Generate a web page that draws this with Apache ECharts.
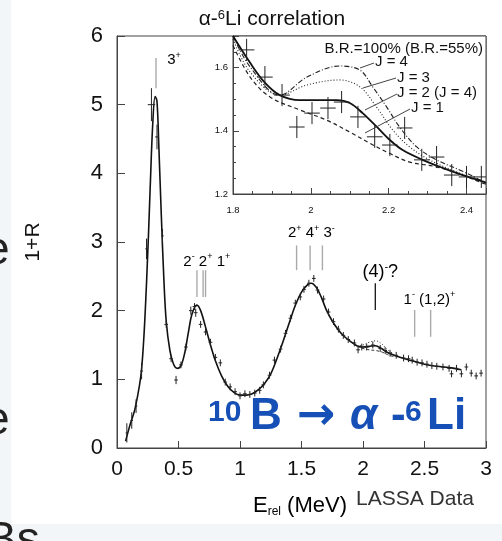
<!DOCTYPE html>
<html><head><meta charset="utf-8">
<script src="https://cdn.jsdelivr.net/npm/echarts@6/dist/echarts.min.js"></script>
<style>html,body{margin:0;padding:0;background:#fff}#c{width:502px;height:541px}</style>
</head><body><div id="c"></div>
<script>
// ---------- DATA ----------
// main fit curve (E_rel MeV, 1+R)
const fitX = [0.07,0.10,0.15,0.20,0.24,0.27,0.29,0.31,0.325,0.34,0.36,0.38,0.40,0.43,0.46,0.49,0.52,0.55,0.58,0.61,0.65,0.68,0.72,0.76,0.80,0.85,0.90,0.95,1.00,1.05,1.10,1.15,1.20,1.25,1.30,1.35,1.40,1.45,1.50,1.55,1.58,1.62,1.66,1.70,1.75,1.80,1.85,1.90,1.95,2.00,2.05,2.10,2.15,2.20,2.30,2.40,2.50,2.60,2.70,2.80];
const fitY = [0.10,0.30,0.60,1.15,2.40,3.80,4.70,5.12,5.05,4.40,3.40,2.50,1.85,1.42,1.22,1.16,1.20,1.38,1.68,1.95,2.08,2.00,1.76,1.50,1.27,1.05,0.90,0.81,0.77,0.77,0.79,0.85,0.94,1.08,1.30,1.55,1.82,2.08,2.27,2.38,2.40,2.34,2.20,2.02,1.85,1.72,1.62,1.55,1.49,1.47,1.48,1.49,1.45,1.39,1.32,1.27,1.22,1.19,1.17,1.14];
// alternative J fits near the 2.1 MeV bump (main panel)
const bumpX = [1.95,2.00,2.05,2.10,2.15,2.20,2.25];
const bumpHiY = [1.49,1.50,1.54,1.56,1.52,1.43,1.37];
const bumpLoY = [1.48,1.45,1.43,1.42,1.40,1.36,1.33];
// main data points: [x, y, xErr, yErr]
const mainPts = [
 [0.08,0.22,0.01,0.14],[0.12,0.40,0.01,0.12],[0.155,0.61,0.01,0.10],[0.20,1.12,0.012,0.12],
 [0.24,2.90,0.01,0.15],[0.28,5.00,0.03,0.24],[0.325,4.53,0.015,0.18],[0.37,3.09,0.01,0.10],
 [0.40,1.80,0.015,0.05],[0.44,1.30,0.015,0.05],[0.48,0.99,0.015,0.06],[0.52,1.21,0.015,0.05],
 [0.56,1.47,0.015,0.05],[0.60,2.00,0.015,0.06],[0.63,2.06,0.015,0.05],[0.64,1.97,0.015,0.06],
 [0.68,1.80,0.015,0.05],[0.72,1.69,0.015,0.05],[0.76,1.54,0.015,0.05],[0.80,1.32,0.015,0.05],
 [0.84,1.24,0.015,0.05],[0.88,0.96,0.015,0.05],[0.92,0.89,0.015,0.05],[0.96,0.82,0.015,0.05],
 [1.00,0.76,0.015,0.05],[1.04,0.79,0.015,0.05],[1.08,0.78,0.015,0.05],[1.12,0.80,0.015,0.05],
 [1.16,0.84,0.015,0.05],[1.19,0.92,0.015,0.05],[1.24,1.06,0.015,0.05],[1.28,1.28,0.015,0.05],
 [1.33,1.44,0.015,0.05],[1.37,1.67,0.015,0.05],[1.41,1.89,0.015,0.05],[1.45,2.11,0.015,0.05],
 [1.49,2.20,0.015,0.05],[1.52,2.31,0.015,0.05],[1.56,2.40,0.015,0.05],[1.60,2.47,0.015,0.05],
 [1.63,2.30,0.015,0.05],[1.68,2.17,0.015,0.05],[1.72,1.98,0.015,0.05],[1.76,1.84,0.015,0.05],
 [1.80,1.73,0.015,0.05],[1.84,1.64,0.015,0.05],[1.88,1.58,0.015,0.05],[1.93,1.53,0.015,0.05],
 [1.96,1.43,0.015,0.05],[1.99,1.47,0.015,0.05],[2.03,1.47,0.015,0.05],[2.08,1.50,0.015,0.05],
 [2.14,1.45,0.015,0.05],[2.18,1.42,0.015,0.05],[2.22,1.38,0.015,0.05],[2.27,1.35,0.015,0.05],
 [2.33,1.31,0.015,0.05],[2.37,1.30,0.015,0.05],[2.40,1.28,0.015,0.05],[2.44,1.25,0.015,0.05],
 [2.48,1.24,0.015,0.05],[2.52,1.22,0.015,0.05],[2.56,1.20,0.015,0.05],[2.60,1.19,0.015,0.05],
 [2.65,1.18,0.015,0.05],[2.70,1.16,0.015,0.05],[2.72,1.08,0.015,0.05],[2.76,1.16,0.015,0.05],
 [2.80,1.08,0.015,0.05],[2.84,1.18,0.015,0.05],[2.88,1.09,0.015,0.05],[2.92,1.05,0.015,0.05],
 [2.96,1.09,0.015,0.05]
];
// level markers: [x, yBottom, yTop]
const levelLines = [[0.317,5.24,5.68],[0.65,2.20,2.59],[0.70,2.20,2.59],[0.72,2.20,2.59],
 [1.46,2.59,2.95],[1.57,2.59,2.95],[1.67,2.59,2.95],[2.42,1.62,2.01],[2.55,1.62,2.01]];
const questionLine = [[2.10,2.01,2.40]];
// level labels: [x, y, rich text, size]
const levelLabels = [
 [0.463,5.65,'{n|3}{s|+}',15],
 [0.73,2.71,'{n|2}{s|-}{n| 2}{s|+}{n| 1}{s|+}',15],
 [1.58,3.13,'{n|2}{s|+}{n| 4}{s|+}{n| 3}{s|-}',15],
 [2.14,2.56,'{n|(4)}{s|-}{n|?}',18],
 [2.54,2.16,'{n|1}{s|-}{n| (1,2)}{s|+}',15]
];
// inset curves
const insX = [1.80,1.844,1.88,1.92,1.972,2.02,2.067,2.10,2.133,2.169,2.203,2.236,2.287,2.34,2.39,2.44,2.45];
const insJ2 = [1.70,1.615,1.555,1.513,1.497,1.497,1.497,1.488,1.456,1.413,1.371,1.339,1.308,1.282,1.260,1.240,1.236];
const insJ1X = [1.80,1.844,1.895,1.972,2.04,2.10,2.151,2.20,2.254,2.323,2.39,2.44,2.45];
const insJ1 = [1.67,1.570,1.507,1.466,1.434,1.396,1.361,1.330,1.301,1.286,1.260,1.235,1.231];
const insJ3X = [1.80,1.844,1.92,1.99,2.074,2.126,2.169,2.21,2.254,2.305,2.374,2.44,2.45];
const insJ3 = [1.69,1.586,1.513,1.545,1.561,1.539,1.475,1.403,1.349,1.308,1.270,1.240,1.236];
const insJ4X = [1.80,1.844,1.92,1.99,2.074,2.126,2.159,2.195,2.228,2.272,2.323,2.39,2.44,2.45];
const insJ4 = [1.70,1.602,1.513,1.570,1.605,1.592,1.539,1.475,1.412,1.349,1.308,1.272,1.242,1.238];
// inset data points: [x, y, xErr, yErr]
const insPts = [[1.835,1.656,0.02,0.035],[1.882,1.570,0.02,0.035],[1.926,1.513,0.02,0.035],[1.964,1.412,0.02,0.035],
 [2.003,1.456,0.02,0.035],[2.044,1.472,0.02,0.035],[2.079,1.491,0.02,0.035],[2.121,1.444,0.02,0.035],
 [2.164,1.381,0.02,0.035],[2.203,1.355,0.02,0.035],[2.241,1.409,0.02,0.035],[2.285,1.308,0.02,0.035],
 [2.323,1.317,0.02,0.035],[2.362,1.260,0.02,0.035],[2.400,1.254,0.02,0.035],[2.438,1.254,0.02,0.035]];
const mainXTicks = {min:0,max:3,interval:0.5};
const mainYTicks = {min:0,max:6,interval:1};
const insXTicks = {min:1.8,max:2.45,interval:0.2};
const insYTicks = {min:1.2,max:1.7,interval:0.2};

// ---------- CHART ----------
const FONT = "'Liberation Sans', Arial, Helvetica, sans-serif";
const BLUE = '#1650b6';
const zip = (xs, ys) => xs.map((x,i)=>[x, ys[i]]);
function crossRender(params, api){
  const x=api.value(0), y=api.value(1), xe=api.value(2), ye=api.value(3);
  const a=api.coord([x-xe,y]), b=api.coord([x+xe,y]), c=api.coord([x,y-ye]), d=api.coord([x,y+ye]);
  return {type:'group', children:[
    {type:'line', shape:{x1:a[0],y1:a[1],x2:b[0],y2:b[1]}, style:{stroke:'#222',lineWidth:1}},
    {type:'line', shape:{x1:c[0],y1:c[1],x2:d[0],y2:d[1]}, style:{stroke:'#222',lineWidth:1}}
  ]};
}
function vlineRender(color, w){
  return function(params, api){
    const x=api.value(0);
    const p=api.coord([x,api.value(1)]), q=api.coord([x,api.value(2)]);
    return {type:'line', shape:{x1:p[0],y1:p[1],x2:q[0],y2:q[1]}, style:{stroke:color,lineWidth:w}};
  };
}
const chart = echarts.init(document.getElementById('c'), null, {renderer:'canvas'});
const axisTxt = {color:'#111', fontFamily:FONT};
const bigTxt = (x, t, opts) => Object.assign({type:'text', x:x, y:417, z:20,
  style:Object.assign({text:t, fontSize:44, fontWeight:'bold', fontFamily:FONT, fill:BLUE, verticalAlign:'middle'}, opts||{})});
const option = {
  backgroundColor:'#fff',
  animation:false,
  title:{
    text:'{n|α-}{s|6}{n|Li correlation}', left:267, top:4, textAlign:'center',
    textStyle:{fontWeight:'normal', rich:{n:{fontSize:21,fontWeight:'normal',fontFamily:FONT,color:'#111'},s:{fontSize:13,fontWeight:'normal',fontFamily:FONT,color:'#111',verticalAlign:'top'}}}
  },
  grid:[
    {left:117, top:36, width:369, height:412, show:true, borderColor:'#444', borderWidth:1, backgroundColor:'transparent'},
    {left:233, top:36, width:253, height:158, show:true, borderColor:'#444', borderWidth:1, backgroundColor:'#fff', z:5}
  ],
  xAxis:[
    {gridIndex:0, type:'value', min:mainXTicks.min, max:mainXTicks.max, interval:mainXTicks.interval,
     axisLine:{show:true,lineStyle:{color:'#444'}}, axisTick:{inside:true,length:7,lineStyle:{color:'#444'}},
     axisLabel:Object.assign({fontSize:21, margin:11}, axisTxt), splitLine:{show:false}},
    {gridIndex:1, type:'value', min:insXTicks.min, max:insXTicks.max, interval:insXTicks.interval, z:7,
     axisLine:{show:true,lineStyle:{color:'#444'}}, axisTick:{inside:true,length:6,lineStyle:{color:'#444'}},
     minorTick:{show:true,splitNumber:4,length:3,lineStyle:{color:'#444'}},
     axisLabel:Object.assign({fontSize:9.5, margin:11, showMaxLabel:false}, axisTxt), splitLine:{show:false}}
  ],
  yAxis:[
    {gridIndex:0, type:'value', min:mainYTicks.min, max:mainYTicks.max, interval:mainYTicks.interval,
     axisLine:{show:true,lineStyle:{color:'#444'}}, axisTick:{inside:true,length:8,lineStyle:{color:'#444'}},
     axisLabel:Object.assign({fontSize:22, margin:14}, axisTxt), splitLine:{show:false}},
    {gridIndex:1, type:'value', min:insYTicks.min, max:insYTicks.max, interval:insYTicks.interval, z:7,
     axisLine:{show:true,lineStyle:{color:'#444'}}, axisTick:{inside:true,length:6,lineStyle:{color:'#444'}},
     minorTick:{show:true,splitNumber:4,length:3,lineStyle:{color:'#444'}},
     axisLabel:Object.assign({fontSize:9.5, margin:5, showMaxLabel:false}, axisTxt), splitLine:{show:false}}
  ],
  series:[
    {type:'line', xAxisIndex:0, yAxisIndex:0, data:zip(fitX,fitY), smooth:0.35, showSymbol:false, z:2,
     lineStyle:{color:'#111', width:1.6}},
    {type:'line', xAxisIndex:0, yAxisIndex:0, data:zip(bumpX,bumpHiY), smooth:0.4, showSymbol:false, z:2,
     lineStyle:{color:'#333', width:1, type:[1,2]}},
    {type:'line', xAxisIndex:0, yAxisIndex:0, data:zip(bumpX,bumpLoY), smooth:0.4, showSymbol:false, z:2,
     lineStyle:{color:'#333', width:1, type:[3,2]}},
    {type:'custom', xAxisIndex:0, yAxisIndex:0, data:mainPts, renderItem:crossRender, z:3},
    {type:'custom', xAxisIndex:0, yAxisIndex:0, data:levelLines, renderItem:vlineRender('#aaa',1.4), z:3},
    {type:'custom', xAxisIndex:0, yAxisIndex:0, data:questionLine, renderItem:vlineRender('#111',1.3), z:3},
    {type:'custom', xAxisIndex:0, yAxisIndex:0, data:levelLabels, z:3,
     renderItem:function(params, api){
       const row = levelLabels[params.dataIndex];
       const p = api.coord([row[0], row[1]]);
       const fs = row[3];
       return {type:'text', x:p[0], y:p[1], style:{text:row[2], align:'center', verticalAlign:'middle',
         rich:{n:{fontSize:fs,fontFamily:FONT,color:'#111',lineHeight:fs+4},
               s:{fontSize:Math.round(fs*0.6),fontFamily:FONT,color:'#111',verticalAlign:'top'}}}};
     }},
    // inset
    {type:'line', xAxisIndex:1, yAxisIndex:1, data:zip(insJ1X,insJ1), smooth:0.35, showSymbol:false, z:8, clip:true,
     lineStyle:{color:'#222', width:1.2, type:[4,3]}},
    {type:'line', xAxisIndex:1, yAxisIndex:1, data:zip(insJ3X,insJ3), smooth:0.35, showSymbol:false, z:8, clip:true,
     lineStyle:{color:'#222', width:1.1, type:[1,2]}},
    {type:'line', xAxisIndex:1, yAxisIndex:1, data:zip(insJ4X,insJ4), smooth:0.35, showSymbol:false, z:8, clip:true,
     lineStyle:{color:'#222', width:1.1, type:[5,2,1,2]}},
    {type:'line', xAxisIndex:1, yAxisIndex:1, data:zip(insX,insJ2), smooth:0.35, showSymbol:false, z:8, clip:true,
     lineStyle:{color:'#111', width:1.8}},
    {type:'custom', xAxisIndex:1, yAxisIndex:1, data:insPts, renderItem:crossRender, z:9, clip:true}
  ],
  graphic:[
    {type:'rect', shape:{x:0,y:0,width:11,height:541}, style:{fill:'#f3f6f9'}, z:-1},
    {type:'rect', shape:{x:0,y:524,width:502,height:17}, style:{fill:'#f3f6f9'}, z:-1},
    {type:'text', left:-16, top:228, style:{text:'e', fontSize:46, fontFamily:FONT, fill:'#222'}},
    {type:'text', left:-16, top:398, style:{text:'e', fontSize:46, fontFamily:FONT, fill:'#222'}},
    {type:'text', left:-14, top:518, style:{text:'Bs', fontSize:46, fontFamily:FONT, fill:'#222'}},
    {type:'text', x:33, y:242, rotation:Math.PI/2, style:{text:'1+R', fontSize:21, fontFamily:FONT, fill:'#111', align:'center', verticalAlign:'middle'}},
    {type:'text', x:253, y:506, style:{text:'{n|E}{b|rel}{n| (MeV)}', verticalAlign:'middle',
      rich:{n:{fontSize:22,fontFamily:FONT,color:'#111'},b:{fontSize:12,fontFamily:FONT,color:'#111',verticalAlign:'bottom',padding:[12,0,0,0]}}}},
    {type:'text', x:356, y:499, style:{text:'LASSA Data', fontSize:21, fontFamily:FONT, fill:'#333', verticalAlign:'middle'}},
    // big blue reaction label
    {type:'text', x:208, y:398, z:20, style:{text:'10', fontSize:30, fontWeight:'bold', fontFamily:FONT, fill:BLUE, verticalAlign:'top'}},
    bigTxt(250, 'B'),
    bigTxt(297, '→', {fontFamily:"'DejaVu Sans', sans-serif", fontSize:46}),
    bigTxt(350, 'α', {fontStyle:'italic'}),
    bigTxt(391, '-'),
    {type:'text', x:405, y:398, z:20, style:{text:'6', fontSize:30, fontWeight:'bold', fontFamily:FONT, fill:BLUE, verticalAlign:'top'}},
    bigTxt(427, 'Li'),
    // inset annotations
    {type:'text', x:483, y:49, z:20, style:{text:'B.R.=100% (B.R.=55%)', fontSize:15, fontFamily:FONT, fill:'#111', align:'right', verticalAlign:'middle'}},
    {type:'text', x:375, y:62, z:20, style:{text:'J = 4', fontSize:15, fontFamily:FONT, fill:'#111', align:'left', verticalAlign:'middle'}},
    {type:'text', x:397, y:78, z:20, style:{text:'J = 3', fontSize:15, fontFamily:FONT, fill:'#111', align:'left', verticalAlign:'middle'}},
    {type:'text', x:397, y:93, z:20, style:{text:'J = 2 (J = 4)', fontSize:15, fontFamily:FONT, fill:'#111', align:'left', verticalAlign:'middle'}},
    {type:'text', x:411, y:108, z:20, style:{text:'J = 1', fontSize:15, fontFamily:FONT, fill:'#111', align:'left', verticalAlign:'middle'}},
    {type:'line', z:20, shape:{x1:360,y1:68,x2:374,y2:63}, style:{stroke:'#444',lineWidth:1}},
    {type:'line', z:20, shape:{x1:363,y1:88,x2:396,y2:78}, style:{stroke:'#444',lineWidth:1}},
    {type:'line', z:20, shape:{x1:365,y1:110,x2:397,y2:94}, style:{stroke:'#444',lineWidth:1}},
    {type:'line', z:20, shape:{x1:365,y1:133,x2:410,y2:109}, style:{stroke:'#444',lineWidth:1}}
  ]
};
chart.setOption(option);
</script></body></html>
